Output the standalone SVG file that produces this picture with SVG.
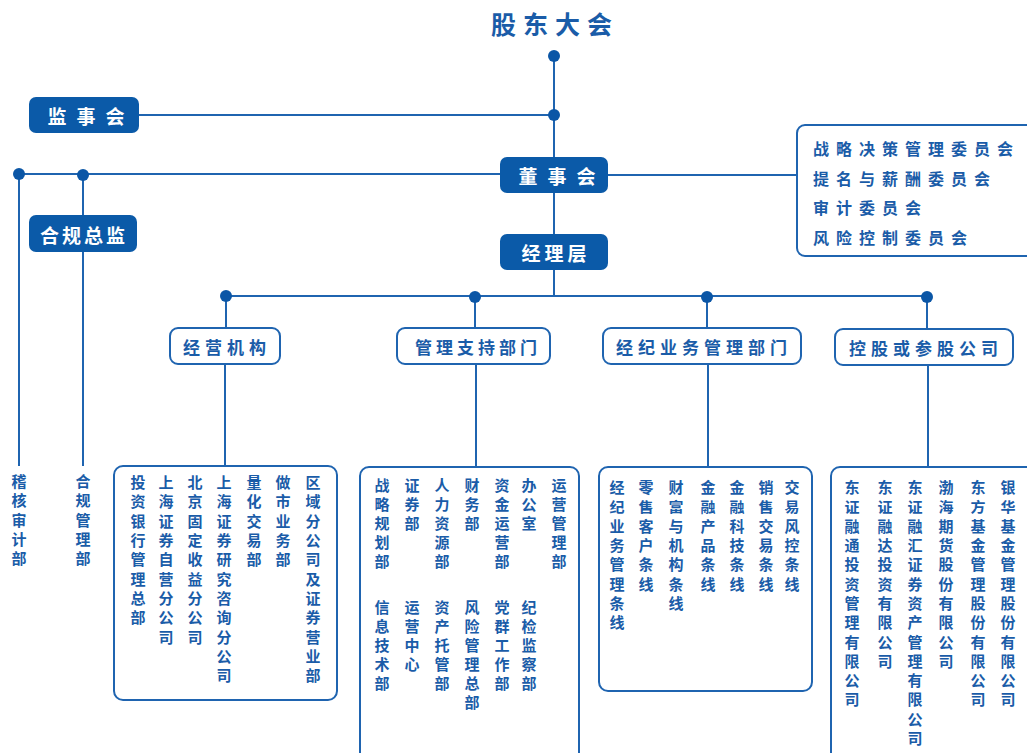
<svg xmlns="http://www.w3.org/2000/svg" width="1027" height="753" viewBox="0 0 1027 753">
<style>
text{font-family:"Noto Sans CJK SC","Noto Sans",sans-serif;}
.line{stroke:#1f64b0;stroke-width:2;fill:none;}
.dot{fill:#0b56a6;}
.fill{fill:#0b5aa8;}
.wt{fill:#fff;font-weight:700;font-size:19px;text-anchor:middle;dominant-baseline:central;}
.ob{fill:#fff;stroke:#1f64b0;stroke-width:2;}
.bt{fill:#1a5ca8;font-weight:700;font-size:17px;text-anchor:middle;dominant-baseline:central;letter-spacing:5px;}
.vt{fill:#1a5ca8;font-weight:700;font-size:15px;writing-mode:vertical-rl;text-orientation:upright;letter-spacing:4.3px;}
.ct{fill:#1a5ca8;font-weight:700;font-size:16px;dominant-baseline:central;letter-spacing:7px;}
</style>
<rect width="1027" height="753" fill="#fff"/>
<g id="connectors">
<path class="line" d="M554 56V234M554 270V296M139 115H554M19 174H500M608 175H797M19 174V466M83 175V215M83 252V466M226 296H927M226 296V328M475 296V328M707 296V328M927 296V329M225 364V466M476 364V467M708 364V467M928 365V467"/>
<circle class="dot" cx="554" cy="56" r="6"/>
<circle class="dot" cx="554" cy="115" r="6"/>
<circle class="dot" cx="19" cy="174" r="6"/>
<circle class="dot" cx="83" cy="175" r="6"/>
<circle class="dot" cx="226" cy="296" r="6"/>
<circle class="dot" cx="475" cy="297" r="6"/>
<circle class="dot" cx="707" cy="297" r="6"/>
<circle class="dot" cx="927" cy="297" r="6"/>
</g>
<g id="title"><text x="555" y="23" style="fill:#1a5ca8;font-weight:700;font-size:25px;text-anchor:middle;dominant-baseline:central;letter-spacing:7px">股东大会</text></g>
<g id="jianshihui"><rect class="fill" x="29" y="97" width="110" height="36" rx="7"/><text class="wt" x="91" y="115" style="letter-spacing:10px">监事会</text></g>
<g id="dongshihui"><rect class="fill" x="500" y="157" width="108" height="36" rx="7"/><text class="wt" x="562" y="175" style="letter-spacing:10px">董事会</text></g>
<g id="jinglice"><rect class="fill" x="500" y="234" width="108" height="36" rx="7"/><text class="wt" x="556" y="252" style="letter-spacing:4px">经理层</text></g>
<g id="heguizongjian"><rect class="fill" x="29" y="215" width="108" height="37" rx="7"/><text class="wt" x="84" y="234" style="letter-spacing:3px">合规总监</text></g>
<g id="committees"><rect class="ob" x="797" y="125" width="250" height="131" rx="8"/>
<text class="ct" x="813" y="148">战略决策管理委员会</text>
<text class="ct" x="813" y="178">提名与薪酬委员会</text>
<text class="ct" x="813" y="207">审计委员会</text>
<text class="ct" x="813" y="237">风险控制委员会</text></g>
<g id="jihe"><text class="vt" x="19" y="474">稽核审计部</text></g>
<g id="heguiguanli"><text class="vt" x="83" y="474">合规管理部</text></g>
<g id="jingying"><rect class="ob" x="170" y="328" width="110" height="36" rx="8"/><text class="bt" x="227" y="346">经营机构</text></g>
<g id="guanlizhichi"><rect class="ob" x="397" y="328" width="153" height="36" rx="8"/><text class="bt" x="478" y="346" style="letter-spacing:4px">管理支持部门</text></g>
<g id="jingji"><rect class="ob" x="603" y="328" width="198" height="36" rx="8"/><text class="bt" x="704" y="346">经纪业务管理部门</text></g>
<g id="konggu"><rect class="ob" x="835" y="329" width="178" height="36" rx="8"/><text class="bt" x="926" y="347">控股或参股公司</text></g>
<g id="box-jingying"><rect class="ob" x="114" y="466" width="223" height="234" rx="9"/>
<text class="vt" x="138" y="475">投资银行管理总部</text>
<text class="vt" x="166" y="475">上海证券自营分公司</text>
<text class="vt" x="195" y="475">北京固定收益分公司</text>
<text class="vt" x="224" y="475">上海证券研究咨询分公司</text>
<text class="vt" x="254" y="475">量化交易部</text>
<text class="vt" x="283" y="475">做市业务部</text>
<text class="vt" x="313" y="475">区域分公司及证券营业部</text></g>
<g id="box-guanli"><rect class="ob" x="360" y="467" width="219" height="320" rx="9"/>
<text class="vt" x="382" y="478" style="letter-spacing:4px">战略规划部</text>
<text class="vt" x="412" y="478" style="letter-spacing:4px">证券部</text>
<text class="vt" x="442" y="478" style="letter-spacing:4px">人力资源部</text>
<text class="vt" x="472" y="478" style="letter-spacing:4px">财务部</text>
<text class="vt" x="502" y="478" style="letter-spacing:4px">资金运营部</text>
<text class="vt" x="529" y="478" style="letter-spacing:4px">办公室</text>
<text class="vt" x="559" y="478" style="letter-spacing:4px">运营管理部</text>
<text class="vt" x="382" y="600" style="letter-spacing:4px">信息技术部</text>
<text class="vt" x="412" y="600" style="letter-spacing:4px">运营中心</text>
<text class="vt" x="442" y="600" style="letter-spacing:4px">资产托管部</text>
<text class="vt" x="472" y="600" style="letter-spacing:4px">风险管理总部</text>
<text class="vt" x="502" y="600" style="letter-spacing:4px">党群工作部</text>
<text class="vt" x="529" y="600" style="letter-spacing:4px">纪检监察部</text></g>
<g id="box-jingji"><rect class="ob" x="599" y="467" width="213" height="224" rx="9"/>
<text class="vt" x="617" y="480">经纪业务管理条线</text>
<text class="vt" x="646" y="480">零售客户条线</text>
<text class="vt" x="676" y="480">财富与机构条线</text>
<text class="vt" x="708" y="480">金融产品条线</text>
<text class="vt" x="737" y="480">金融科技条线</text>
<text class="vt" x="766" y="480">销售交易条线</text>
<text class="vt" x="792" y="480">交易风控条线</text></g>
<g id="box-konggu"><rect class="ob" x="831" y="467" width="220" height="320" rx="9"/>
<text class="vt" x="852" y="480">东证融通投资管理有限公司</text>
<text class="vt" x="885" y="480">东证融达投资有限公司</text>
<text class="vt" x="915" y="480">东证融汇证券资产管理有限公司</text>
<text class="vt" x="946" y="480">渤海期货股份有限公司</text>
<text class="vt" x="978" y="480">东方基金管理股份有限公司</text>
<text class="vt" x="1008" y="480">银华基金管理股份有限公司</text></g>
</svg>
